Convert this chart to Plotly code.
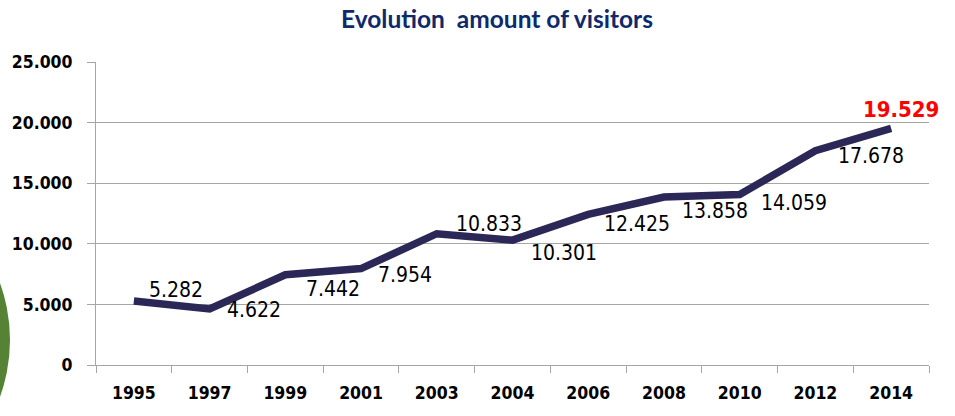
import plotly.graph_objects as go

years = ["1995", "1997", "1999", "2001", "2003", "2004", "2006", "2008", "2010", "2012", "2014"]
visitors = [5282, 4622, 7442, 7954, 10833, 10301, 12425, 13858, 14059, 17678, 19529]
y_ticks = [0, 5000, 10000, 15000, 20000, 25000]
# label offsets (pixels) relative to each point
label_dx = [42, 44, 48, 44, 52, 51, 49, 51, 54, 56, 10]
label_dy = [11, -1, -14, -6, 10, -13, -10, -14, -8, -5, 19]

W, H = 955, 416
ML, MR, MT, MB = 96, 26, 62, 51
pw, ph = W - ML - MR, H - MT - MB

def fmt(v):
    return f"{v:,}".replace(",", ".")

fig = go.Figure()
fig.add_trace(go.Scatter(
    x=years, y=visitors, mode="lines",
    line=dict(color="#2B2757", width=7.5),
    hoverinfo="skip", showlegend=False,
))

for i, (yr, v) in enumerate(zip(years, visitors)):
    last = i == len(years) - 1
    fig.add_annotation(
        x=i, y=v, xref="x", yref="y",
        text=f"<b>{fmt(v)}</b>" if last else fmt(v),
        showarrow=False,
        xshift=label_dx[i], yshift=label_dy[i],
        font=dict(family="DejaVu Sans Condensed, DejaVu Sans, sans-serif",
                  size=22 if last else 21,
                  color="#FF0000" if last else "#000000"),
    )

# green decorative circle on the left edge (slide background element)
cx, cy, r = -157, 340, 167
fig.add_shape(
    type="circle", xref="paper", yref="paper", layer="below",
    x0=(cx - r - ML) / pw, x1=(cx + r - ML) / pw,
    y0=(H - MB - (cy + r)) / ph, y1=(H - MB - (cy - r)) / ph,
    fillcolor="#558235", line=dict(width=0),
)

tick_font = dict(family="DejaVu Sans Condensed, DejaVu Sans, sans-serif", size=17.5, color="#000000")

fig.update_layout(
    width=W, height=H,
    margin=dict(l=ML, r=MR, t=MT, b=MB, autoexpand=False),
    paper_bgcolor="white", plot_bgcolor="white",
    separators=",.",
    title=dict(text="<b>Evolution  amount of visitors</b>",
               x=497 / W, xref="container", xanchor="center",
               y=1 - 19 / H, yref="container", yanchor="middle",
               font=dict(family="Lato, sans-serif", size=24.5, color="#0E2A6B")),
    xaxis=dict(
        type="category", showgrid=False, showline=True, linecolor="#A6A6A6", linewidth=1,
        ticks="outside", tickson="boundaries", ticklen=7, tickcolor="#A6A6A6",
        ticklabelstandoff=12, tickfont=tick_font,
        tickvals=years, ticktext=[f"<b>{y}</b>" for y in years],
        range=[-0.5, len(years) - 0.5],
    ),
    yaxis=dict(
        range=[0, 25000], tickvals=y_ticks,
        ticktext=[f"<b>{fmt(t)}</b>" for t in y_ticks],
        showgrid=True, gridcolor="#A6A6A6", gridwidth=1,
        showline=True, linecolor="#A6A6A6", linewidth=1,
        ticks="outside", ticklen=8, tickcolor="#A6A6A6",
        ticklabelstandoff=11, zeroline=False, tickfont=tick_font,
    ),
)

fig.write_html("out.html", config={"displayModeBar": False},
               post_script="document.body.style.margin='0';")
